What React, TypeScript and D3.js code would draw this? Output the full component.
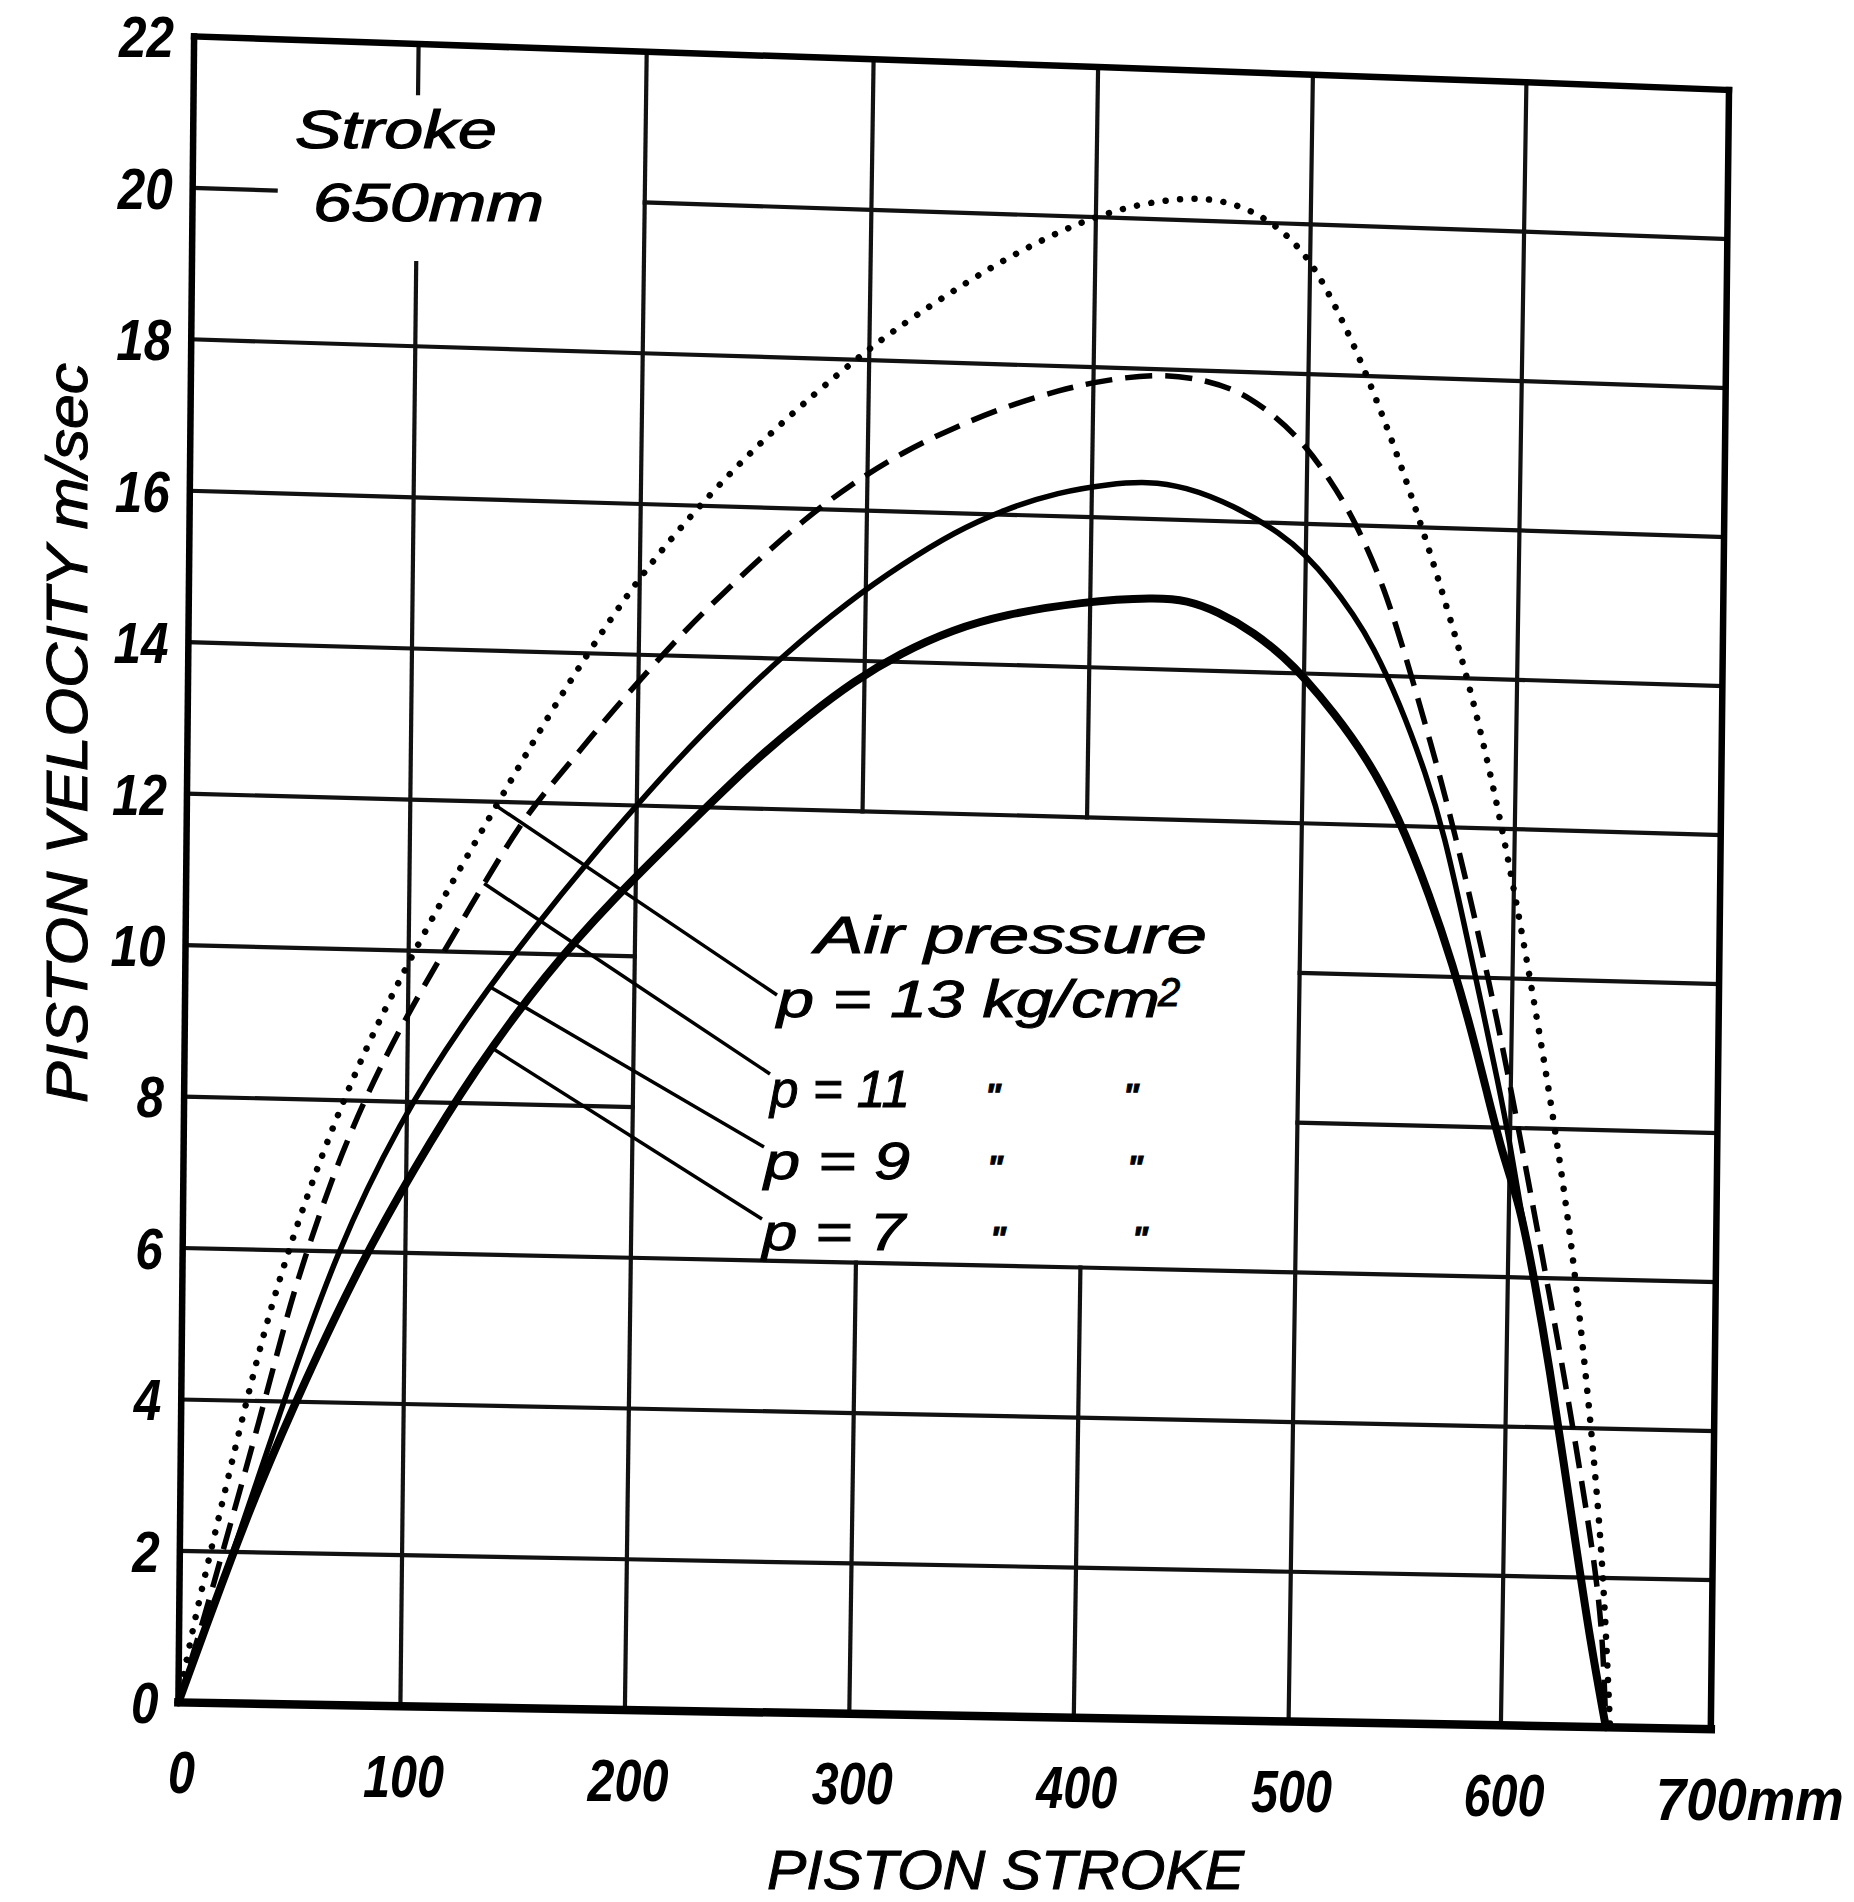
import React from 'react';
import * as d3 from 'd3';

// ---------- data (piston stroke mm, piston velocity m/sec) ----------
const xTicks = [0, 100, 200, 300, 400, 500, 600, 700];
const yTicks = [0, 2, 4, 6, 8, 10, 12, 14, 16, 18, 20, 22];

const p13: [number, number][] = [
  [0, 0], [5, 0.8], [10, 1.5], [17, 2.4], [25, 3.45], [37, 4.95], [49, 6.15], [63, 7.35], [75, 8.25],
  [86, 9.0], [105, 10.15], [124, 11.2], [139, 12.0], [163, 13.3], [189, 14.55], [209, 15.4],
  [239, 16.45], [264, 17.2], [288, 17.85], [308, 18.35], [334, 18.9], [362, 19.45], [394, 19.95],
  [420, 20.2], [448, 20.33], [468, 20.22], [484, 19.98], [498, 19.6], [509, 19.1], [523, 18.3],
  [534, 17.55], [543, 16.9], [553, 16.1], [562, 15.35], [573, 14.35], [580, 13.65], [588, 12.75],
  [596, 11.75], [604, 10.65], [613, 9.35], [622, 7.95], [630, 6.55], [637, 5.0], [643, 3.5],
  [648, 2.0], [652, 0],
];
const p11: [number, number][] = [
  [0, 0], [12, 1.2], [22, 2.3], [34, 3.6], [46, 5.0], [53, 5.75], [71, 7.35], [90, 8.6],
  [107, 9.55], [127, 10.6], [149, 11.75], [165, 12.35], [181, 12.95], [193, 13.4], [219, 14.3],
  [237, 14.85], [254, 15.35], [272, 15.85], [293, 16.35], [316, 16.8], [339, 17.15], [362, 17.45],
  [385, 17.68], [403, 17.82], [431, 17.95], [454, 17.87], [472, 17.7], [495, 17.2], [511, 16.6],
  [523, 16.05], [537, 15.2], [550, 14.05], [566, 12.55], [578, 11.25], [589, 9.95], [598, 8.8],
  [608, 7.45], [616, 6.35], [626, 4.95], [632, 4.05], [639, 2.95], [644, 2.1], [648, 1.2], [650, 0],
];
const p9: [number, number][] = [
  [0, 0], [12, 1.0], [23, 1.9], [46, 4.0], [69, 6.0], [97, 7.75], [124, 9.05], [154, 10.3],
  [183, 11.4], [200, 12.0], [217, 12.6], [239, 13.3], [264, 14.05], [293, 14.8], [316, 15.3],
  [339, 15.75], [362, 16.08], [385, 16.32], [408, 16.45], [426, 16.5], [443, 16.45], [466, 16.22],
  [489, 15.85], [500, 15.58], [511, 15.25], [523, 14.8], [532, 14.4], [545, 13.65], [558, 12.7],
  [567, 11.9], [577, 10.7], [586, 9.6], [594, 8.6], [600, 7.8], [605, 7.0], [613, 5.95],
  [621, 4.75], [628, 3.55], [635, 2.35], [642, 1.15], [650, 0],
];
const p7: [number, number][] = [
  [0, 0], [12, 1.0], [23, 1.9], [35, 2.85], [55, 4.25], [80, 5.85], [103, 7.1], [130, 8.45],
  [161, 9.75], [190, 10.75], [220, 11.67], [252, 12.65], [276, 13.27], [295, 13.72], [316, 14.12],
  [339, 14.45], [362, 14.67], [396, 14.87], [431, 14.96], [445, 14.93], [459, 14.8], [477, 14.52],
  [491, 14.2], [500, 13.95], [514, 13.5], [530, 12.9], [545, 12.15], [561, 11.05], [572, 10.15],
  [581, 9.3], [589, 8.45], [597, 7.6], [605, 7.0], [613, 5.95], [621, 4.75], [628, 3.55],
  [635, 2.35], [642, 1.15], [650, 0],
];

const legendLabels = ['p = 13 kg/cm', 'p = 11', 'p =  9', 'p = 7'];

// ---------- layout (scan calibration, page pixels) ----------
const W = 1854;
const H = 1902;
const BOTTOM_X = [178.4, 400.4, 624.9, 849.3, 1073.8, 1288.6, 1500.9, 1710.8];
const TOP_X = [194.1, 418.6, 646.7, 873.6, 1098.1, 1312.9, 1526.4, 1729.0];
const BOTTOM_Y = [1702.4, 1729.1];
const TOP_Y = [36.4, 90];

const FONT = "'Liberation Sans', Arial, sans-serif";

export default function App() {
  const xB = d3.scaleLinear().domain(xTicks).range(BOTTOM_X);
  const xT = d3.scaleLinear().domain(xTicks).range(TOP_X);
  const yB = d3.scaleLinear().domain([0, 700]).range(BOTTOM_Y);
  const yT = d3.scaleLinear().domain([0, 700]).range(TOP_Y);
  const tS = d3.scaleLinear().domain([0, 22]).range([0, 1]);

  const warp = (x: number, y: number): [number, number] => {
    const t = tS(y);
    const bx = xB(x), by = yB(x), tx = xT(x), ty = yT(x);
    return [bx + (tx - bx) * t, by + (ty - by) * t];
  };

  const lin = d3.line<[number, number]>();
  const smooth = d3.line<[number, number]>().curve(d3.curveBasis);
  const seg = (pts: [number, number][]) => lin(pts.map((p) => warp(p[0], p[1]))) || '';
  const hLine = (y: number, x0: number, x1: number) => {
    const xs = [x0, ...xTicks.filter((t) => t > x0 && t < x1), x1];
    return seg(xs.map((x) => [x, y] as [number, number]));
  };
  const vLine = (x: number, y0: number, y1: number) => seg([[x, y0], [x, y1]]);
  const curvePath = (s: [number, number][]) => smooth(s.map((p) => warp(p[0], p[1]))) || '';

  // grid segments (white areas for the annotations)
  const vSegs: [number, number, number][] = [
    [100, 0, 19.1], [100, 21.35, 22],
    [200, 0, 22],
    [300, 0, 6], [300, 12, 22],
    [400, 0, 6], [400, 12, 22],
    [500, 0, 22], [600, 0, 22],
  ];
  const hSegs: [number, number, number][] = [
    [2, 0, 700], [4, 0, 700], [6, 0, 700],
    [8, 0, 200], [8, 500, 700],
    [10, 0, 200], [10, 500, 700],
    [12, 0, 700], [14, 0, 700], [16, 0, 700], [18, 0, 700],
    [20, 0, 37], [20, 200, 700],
  ];

  const series = [
    { data: p13, dash: '0.01 14.5', width: 6.5, cap: 'round' as const },
    { data: p11, dash: '27 13', width: 5.5, cap: 'butt' as const },
    { data: p9, dash: undefined, width: 5.5, cap: 'round' as const },
    { data: p7, dash: undefined, width: 8, cap: 'round' as const },
  ];

  // legend leader lines: start on curve (data x), end near text (page px)
  const leaderX = [138, 133, 136, 137];
  const leaderEnd: [number, number][] = [[777, 995], [770, 1074], [764, 1147], [762, 1219]];
  const legendPos: [number, number, number][] = [
    [777, 1017, 383], [770, 1107, 140], [764, 1179, 146], [762, 1250, 143],
  ];
  const dittoX = [[], [993, 1131], [995, 1135], [998, 1140]];

  return (
    <svg
      width={W}
      height={H}
      viewBox={`0 0 ${W} ${H}`}
      style={{ position: 'absolute', left: 0, top: 0, display: 'block', background: '#fff' }}
    >
      <rect x={0} y={0} width={W} height={H} fill="#fff" />

      {/* grid */}
      <g stroke="#111" strokeWidth={4.2} fill="none" strokeLinecap="square">
        {vSegs.map(([x, a, b], i) => (
          <path key={'v' + i} d={vLine(x, a, b)} />
        ))}
        {hSegs.map(([y, a, b], i) => (
          <path key={'h' + i} d={hLine(y, a, b)} />
        ))}
      </g>

      {/* frame */}
      <g stroke="#000" fill="none" strokeLinecap="square">
        <path d={vLine(0, 0, 22)} strokeWidth={6.5} />
        <path d={vLine(700, 0, 22)} strokeWidth={6.5} />
        <path d={hLine(22, 0, 700)} strokeWidth={6.5} />
        <path d={hLine(0, 0, 700)} strokeWidth={8.5} />
      </g>

      {/* curves */}
      <g fill="none" stroke="#000" strokeLinejoin="round">
        {series.map((s, i) => (
          <path
            key={'c' + i}
            d={curvePath(s.data)}
            strokeWidth={s.width}
            strokeDasharray={s.dash}
            strokeLinecap={s.cap}
          />
        ))}
      </g>

      {/* leader lines */}
      <g stroke="#000" strokeWidth={3.5} fill="none">
        {series.map((s, i) => {
          const interp = d3.scaleLinear().domain(s.data.map((d) => d[0])).range(s.data.map((d) => d[1]));
          const start = warp(leaderX[i], interp(leaderX[i]));
          return <path key={'l' + i} d={lin([start, leaderEnd[i]]) || ''} />;
        })}
      </g>

      {/* y tick labels */}
      <g fontFamily={FONT} fontStyle="italic" fontWeight="bold" fontSize={58} fill="#000" textAnchor="end">
        {yTicks.map((v) => {
          const [px, py] = warp(0, v);
          const s = String(v);
          return (
            <text
              key={'yt' + v}
              x={px - 20}
              y={py}
              dy="0.36em"
              textLength={s.length * 27.5}
              lengthAdjust="spacingAndGlyphs"
            >
              {s}
            </text>
          );
        })}
      </g>

      {/* x tick labels */}
      <g fontFamily={FONT} fontStyle="italic" fontWeight="bold" fontSize={60} fill="#000">
        {xTicks.map((v) => {
          const [px, py] = warp(v, 0);
          if (v === 700) {
            return (
              <text key={'xt' + v} x={px - 55} y={py + 69} dy="0.36em" textLength={188} lengthAdjust="spacingAndGlyphs">
                {v}mm
              </text>
            );
          }
          const s = String(v);
          return (
            <text
              key={'xt' + v}
              x={px + 3}
              y={py + 69}
              dy="0.36em"
              textAnchor="middle"
              textLength={s.length * 27}
              lengthAdjust="spacingAndGlyphs"
            >
              {s}
            </text>
          );
        })}
      </g>

      {/* axis titles */}
      <text
        x={767}
        y={1889}
        fontFamily={FONT}
        fontStyle="italic"
        fontSize={56}
        fill="#000"
        stroke="#000"
        strokeWidth={1}
        textLength={477}
        lengthAdjust="spacingAndGlyphs"
      >
        PISTON STROKE
      </text>
      <text
        transform="translate(87,733) rotate(-90)"
        textAnchor="middle"
        fontFamily={FONT}
        fontStyle="italic"
        fontSize={58}
        fill="#000"
        stroke="#000"
        strokeWidth={1}
        textLength={740}
        lengthAdjust="spacingAndGlyphs"
      >
        PISTON VELOCITY m/sec
      </text>

      {/* stroke annotation */}
      <g fontFamily={FONT} fontStyle="italic" fontSize={54} fill="#000" stroke="#000" strokeWidth={1.2}>
        <text x={295} y={148} textLength={202} lengthAdjust="spacingAndGlyphs">
          Stroke
        </text>
        <text x={313} y={221} textLength={231} lengthAdjust="spacingAndGlyphs">
          650mm
        </text>
      </g>

      {/* legend */}
      <g fontFamily={FONT} fontStyle="italic" fontSize={52} fill="#000" stroke="#000" strokeWidth={1}>
        <text x={815} y={953} textLength={392} lengthAdjust="spacingAndGlyphs">
          Air pressure
        </text>
        {legendLabels.map((lab, i) => (
          <text key={'lg' + i} x={legendPos[i][0]} y={legendPos[i][1]} textLength={legendPos[i][2]} lengthAdjust="spacingAndGlyphs">
            {lab}
          </text>
        ))}
        <text x={1158} y={1006} fontSize={40}>
          2
        </text>
        {dittoX.map((xs, i) =>
          xs.map((dx, j) => (
            <text key={'d' + i + j} x={dx} y={legendPos[i][1]} fontSize={34} textAnchor="middle" fontWeight="bold">
              "
            </text>
          ))
        )}
      </g>
    </svg>
  );
}
